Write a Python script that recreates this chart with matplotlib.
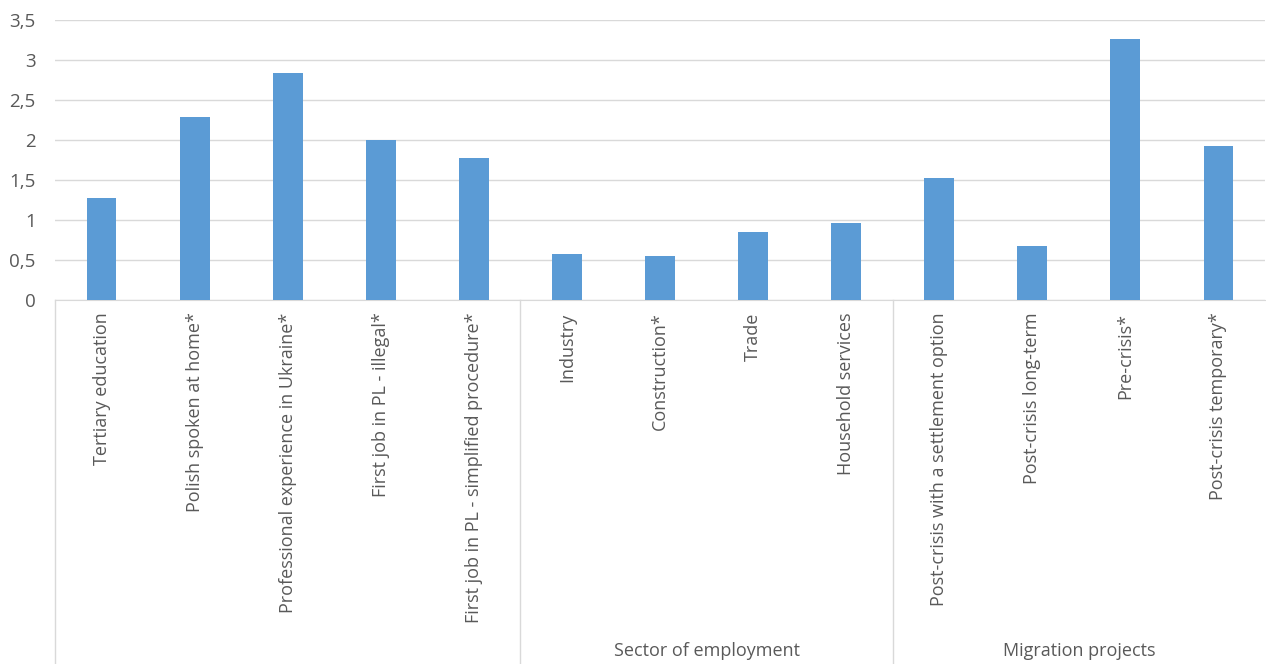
import matplotlib.pyplot as plt
from matplotlib.transforms import blended_transform_factory

categories = ['Tertiary education', 'Polish spoken at home*', 'Professional experience in Ukraine*',
              'First job in PL - illegal*', 'First job in PL - simplified procedure*',
              'Industry', 'Construction*', 'Trade', 'Household services',
              'Post-crisis with a settlement option', 'Post-crisis long-term', 'Pre-crisis*',
              'Post-crisis temporary*']
values = [1.27, 2.29, 2.84, 2.0, 1.77, 0.57, 0.55, 0.85, 0.96, 1.52, 0.67, 3.26, 1.92]
groups = ['', 'Sector of employment', 'Migration projects']
group_sizes = [5, 4, 4]
yticks = [0, 0.5, 1, 1.5, 2, 2.5, 3, 3.5]
ytick_labels = ['0', '0,5', '1', '1,5', '2', '2,5', '3', '3,5']

plt.rcParams['font.family'] = ['Open Sans', 'DejaVu Sans']
txt = '#595959'
grid = '#d9d9d9'

fig = plt.figure(figsize=(12.66, 6.64), dpi=100)
ax = fig.add_axes([55 / 1266, 1 - 300 / 664, 1 - 56 / 1266, 280 / 664])

x = list(range(len(categories)))
ax.bar(x, values, width=0.32, color='#5B9BD5', zorder=3)
ax.set_xlim(-0.5, len(categories) - 0.5)
ax.set_ylim(0, 3.5)
ax.set_yticks(yticks)
ax.set_yticklabels(ytick_labels, color=txt, fontsize=13.5)
ax.yaxis.grid(True, color=grid, linewidth=1)
ax.set_axisbelow(True)
ax.tick_params(axis='y', length=0, pad=14)
ax.set_xticks(x)
ax.set_xticklabels(categories, rotation=90, va='top', ha='center', color=txt, fontsize=13)
ax.tick_params(axis='x', length=0, pad=9)
for s in ['top', 'right', 'left']:
    ax.spines[s].set_visible(False)
ax.spines['bottom'].set_color(grid)

# group separators and group labels
tr = blended_transform_factory(ax.transData, ax.transAxes)
start = -0.5
for name, n in zip(groups, group_sizes):
    ax.plot([start, start], [0, -1.3], transform=tr, color=grid, lw=1, clip_on=False)
    ax.text(start + n / 2, -1.255, name, transform=tr, ha='center', va='center',
            color=txt, fontsize=13)
    start += n

fig.savefig('out.png', dpi=100)
